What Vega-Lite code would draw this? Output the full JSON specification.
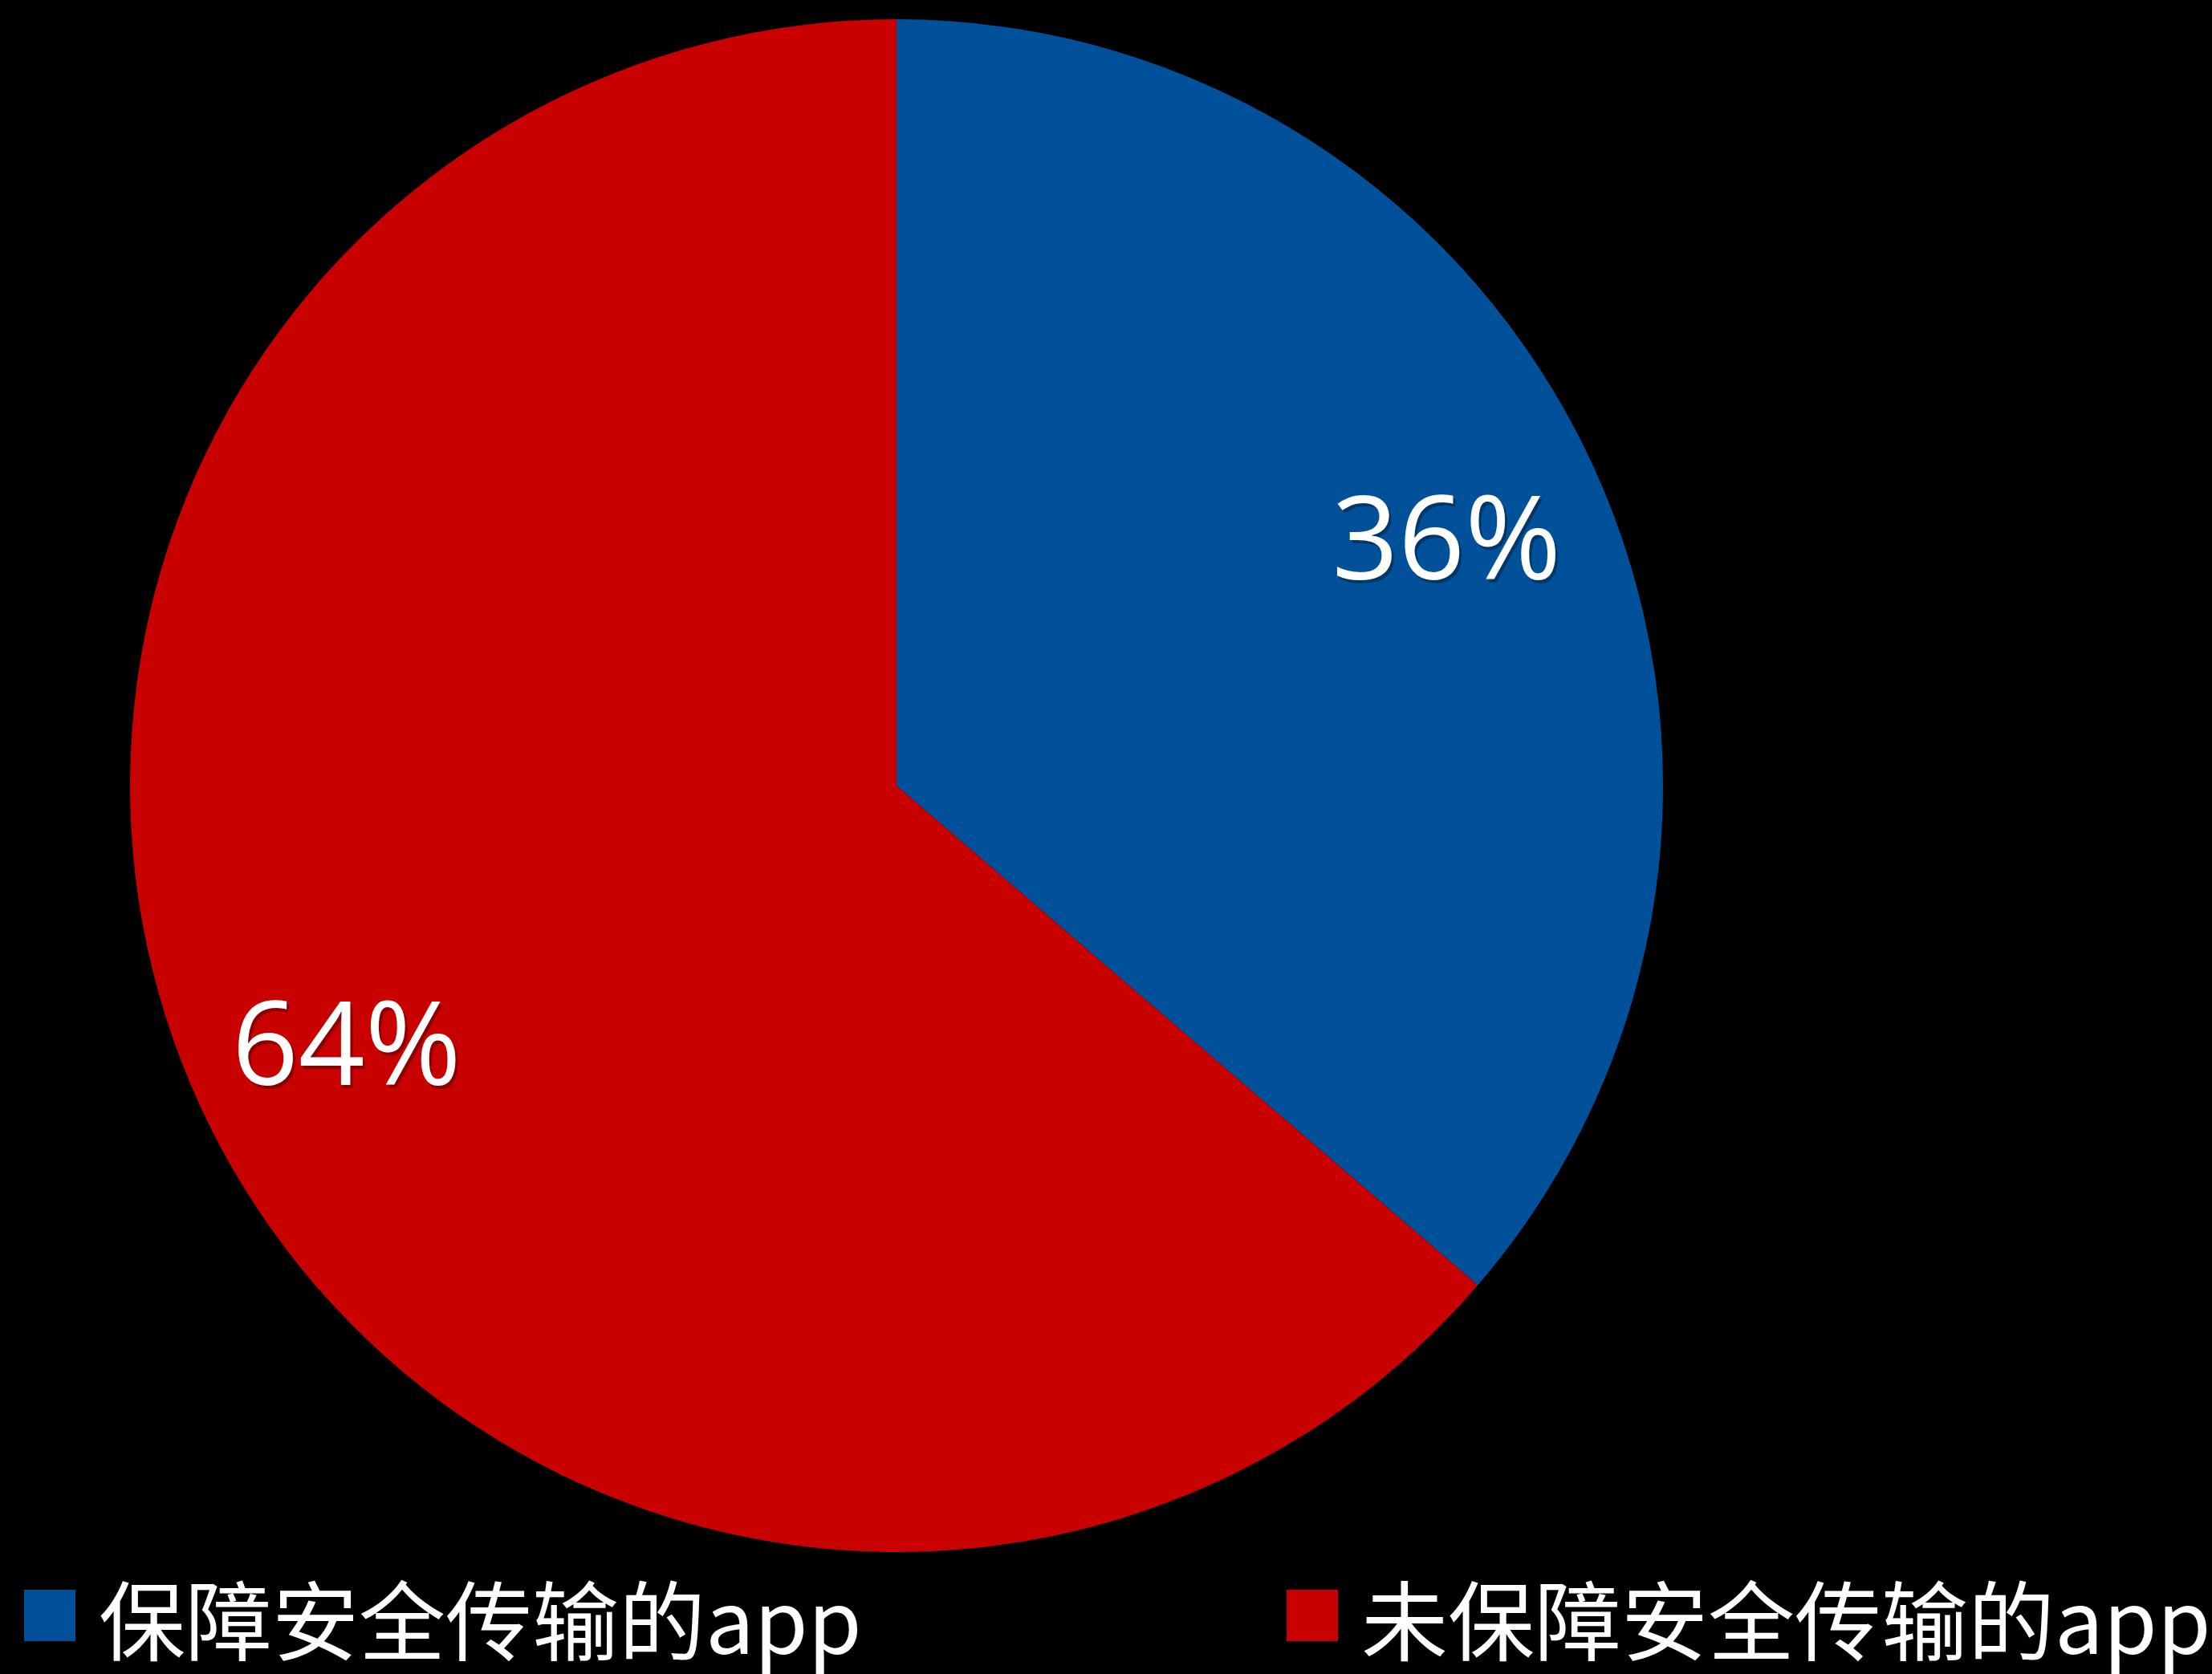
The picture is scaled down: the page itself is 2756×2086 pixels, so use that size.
{
  "$schema": "https://vega.github.io/schema/vega-lite/v6.json",
  "width": 2234,
  "height": 1958,
  "autosize": "none",
  "padding": {"left": 0, "top": 0, "right": 522, "bottom": 128},
  "background": "#000000",
  "config": {"view": {"stroke": null}},
  "data": {
    "values": [
      {"category": "保障安全传输的app", "value": 36.3, "label": "36%", "order": 1},
      {"category": "未保障安全传输的app", "value": 63.7, "label": "64%", "order": 2}
    ]
  },
  "encoding": {
    "theta": {"field": "value", "type": "quantitative", "stack": true},
    "order": {"field": "order", "type": "quantitative"},
    "color": {
      "field": "category",
      "type": "nominal",
      "scale": {"domain": ["保障安全传输的app", "未保障安全传输的app"], "range": ["#00509A", "#C80000"]},
      "legend": {
        "orient": "none",
        "direction": "horizontal",
        "legendX": 8,
        "legendY": 1975,
        "title": null,
        "symbolType": "M-1,-1.5H1V0.5H-1Z",
        "symbolSize": 4096,
        "symbolStrokeWidth": 0,
        "symbolOpacity": 1,
        "labelFont": "Noto Sans CJK SC",
        "labelFontSize": 108,
        "labelColor": "#FFFFFF",
        "labelOffset": 7,
        "labelLimit": 2000,
        "columnPadding": 507,
        "padding": 0
      }
    }
  },
  "layer": [
    {"mark": {"type": "arc", "outerRadius": 955, "stroke": null}},
    {
      "mark": {"type": "text", "radius": 754, "font": "Open Sans", "fontSize": 145, "opacity": 0.3, "dx": 3, "dy": 18, "align": "center", "baseline": "middle"},
      "encoding": {"text": {"field": "label"}, "color": {"value": "#000000"}}
    },
    {
      "mark": {"type": "text", "radius": 754, "font": "Open Sans", "fontSize": 145, "dy": 14, "align": "center", "baseline": "middle"},
      "encoding": {"text": {"field": "label"}, "color": {"value": "#FFFFFF"}}
    }
  ]
}
